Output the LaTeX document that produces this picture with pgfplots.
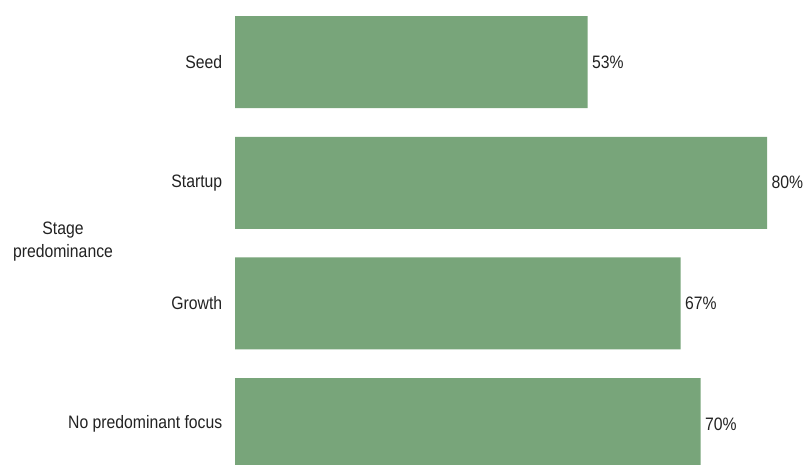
\documentclass[border=0pt]{standalone}
\usepackage{pgfplots}
\pgfplotsset{compat=1.18}
\usepackage{fontspec}
\setmainfont{Liberation Sans}[FakeStretch=0.875]
\definecolor{bargreen}{HTML}{78A57A}
\definecolor{txt}{HTML}{222222}

\begin{document}
\begin{tikzpicture}
\begin{axis}[
  xbar,
  x=6.65bp, y=120.7bp,
  xmin=0, xmax=85.7,
  ymin=-0.514, ymax=3.33,
  y dir=reverse,
  bar width=92bp,
  axis line style={draw=none},
  tick style={draw=none},
  xtick=\empty,
  ytick={0,1,2,3},
  yticklabels={Seed,Startup,Growth,No predominant focus},
  yticklabel style={font=\fontsize{18bp}{20bp}\selectfont, text=txt, xshift=-5bp},
  ylabel={Stage\\predominance},
  ylabel style={rotate=-90, align=center, font=\fontsize{18bp}{23bp}\selectfont, text=txt,
    at={(rel axis cs:0,0.48)}, anchor=center, xshift=-172bp},
  /pgf/number format/assume math mode=true,
  nodes near coords={\pgfmathprintnumber{\pgfplotspointmeta}\%},
  nodes near coords style={font=\fontsize{18bp}{20bp}\selectfont, text=txt, anchor=west, xshift=1bp},
]
\addplot[fill=bargreen, draw=none] coordinates {(53,0) (80,1) (67,2) (70,3)};
\end{axis}
\pgfresetboundingbox
\path (current axis.south west) ++(-235bp,0) rectangle (current axis.north east);
\end{tikzpicture}
\end{document}
